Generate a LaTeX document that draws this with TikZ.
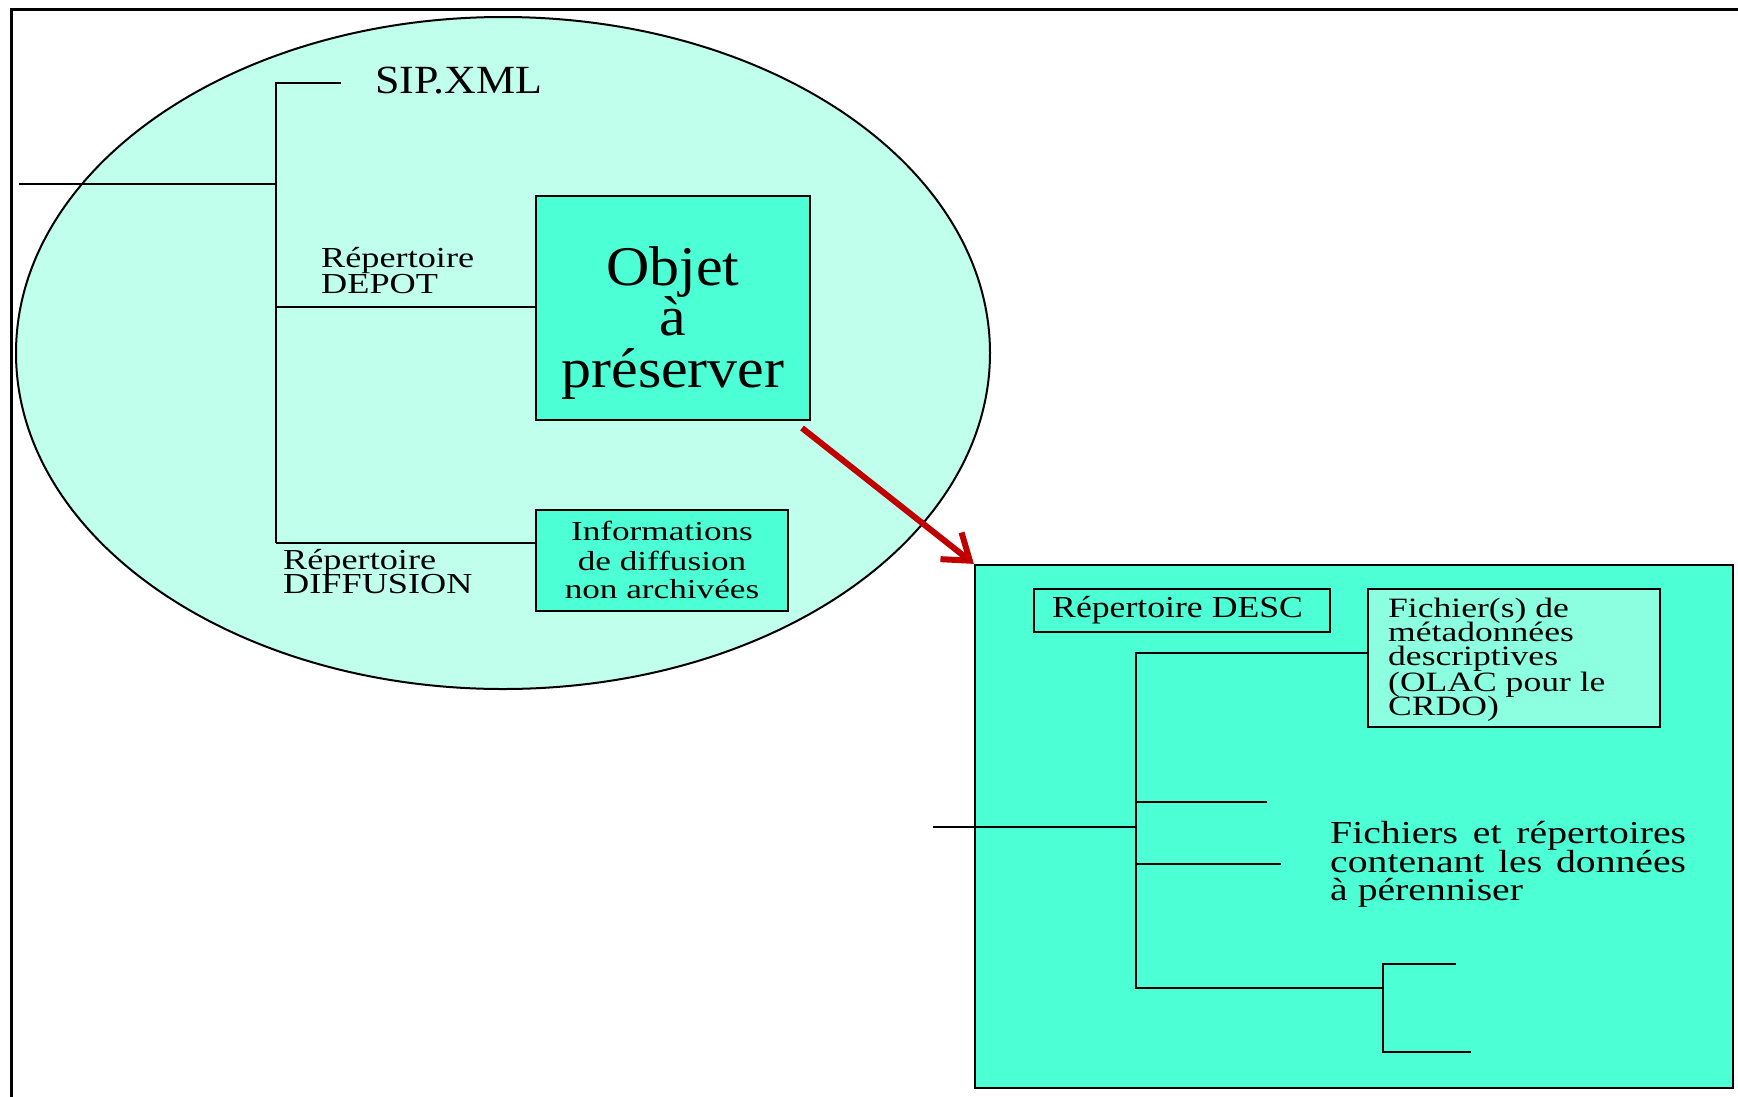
\documentclass[tikz,border=0pt]{standalone}
\usepackage{fontspec}
\setmainfont{Liberation Serif}
\usetikzlibrary{shapes.geometric,arrows.meta}

\definecolor{palemint}{HTML}{C0FFEC}
\definecolor{aqua}{HTML}{4CFFD4}
\definecolor{lightaqua}{HTML}{8CFFE0}
\definecolor{arrowred}{HTML}{C00000}

% horizontally widened text
\newcommand{\wideText}[2]{\scalebox{#1}[1]{#2}}

\begin{document}
\begin{tikzpicture}[x=1pt,y=-1pt,
  treeline/.style={line width=2.2pt},
  boxnode/.style={draw, line width=2.2pt, fill=aqua, rectangle, inner sep=0pt},
  txt/.style={inner sep=0pt, anchor=base west},
  ctxt/.style={inner sep=0pt, anchor=base},
]
\useasboundingbox (0,0) rectangle (1738,1096);

% page frame (right and bottom sides lie outside the page)
\draw[line width=3pt] (1760,9) -- (11,9) -- (11,1120);

% ---------- SIP package ----------
\node (sip) [ellipse, draw, line width=2pt, fill=palemint, inner sep=0pt,
  minimum width=974pt, minimum height=672pt] at (503,353) {};

\node (obj) [boxnode, minimum width=274pt, minimum height=224pt] at (673,308) {};
\node (info) [boxnode, minimum width=252pt, minimum height=101pt] at (662,560.5) {};

\coordinate (sipIn) at (19,184);
\coordinate (trTop) at (276,83);
\coordinate (trMid) at (276,184);
\coordinate (trDepot) at (276,307);
\coordinate (trDiff) at (276,543);
\coordinate (xmlEnd) at (341,83);

\draw[treeline] (sipIn) -- (trMid);
\draw[treeline] (xmlEnd) -- (trTop) -- (trDiff);
\draw[treeline] (trDepot) -- (trDepot -| obj.west);
\draw[treeline] (trDiff) -- (trDiff -| info.west);

\node (xml) [txt, font=\fontsize{40}{40}\selectfont] at (375,93) {\wideText{1.1}{SIP.XML}};

\node (depA) [txt, font=\fontsize{29}{29}\selectfont] at (321,267) {\wideText{1.25}{Répertoire}};
\node (depB) [txt, font=\fontsize{29}{29}\selectfont] at (321,293) {\wideText{1.25}{DEPOT}};

\node (difA) [txt, font=\fontsize{29}{29}\selectfont] at (283,569) {\wideText{1.25}{Répertoire}};
\node (difB) [txt, font=\fontsize{29}{29}\selectfont] at (283,593) {\wideText{1.25}{DIFFUSION}};

\node (objA) [ctxt, font=\fontsize{56}{56}\selectfont] at (673,285) {\wideText{1.07}{Objet}};
\node (objB) [ctxt, font=\fontsize{56}{56}\selectfont] at (673,335) {\wideText{1.07}{à}};
\node (objC) [ctxt, font=\fontsize{56}{56}\selectfont] at (673,387) {\wideText{1.07}{préserver}};

\node (infA) [ctxt, font=\fontsize{27.5}{27.5}\selectfont] at (662,540) {\wideText{1.28}{Informations}};
\node (infB) [ctxt, font=\fontsize{27.5}{27.5}\selectfont] at (662,570) {\wideText{1.28}{de diffusion}};
\node (infC) [ctxt, font=\fontsize{27.5}{27.5}\selectfont] at (662,598) {\wideText{1.28}{non archivées}};

% ---------- content of the DEPOT folder ----------
\node (depot) [boxnode, minimum width=758pt, minimum height=523pt] at (1354,826.5) {};
\node (desc) [boxnode, minimum width=296pt, minimum height=43pt] at (1182,610.5) {};
\node (fich) [boxnode, fill=lightaqua, minimum width=292pt, minimum height=138pt] at (1514,658) {};

\coordinate (depIn) at (933,827);
\coordinate (bTop) at (1136,653);
\coordinate (bIn) at (1136,827);
\coordinate (bOne) at (1136,802);
\coordinate (bTwo) at (1136,864);
\coordinate (bLow) at (1136,988);
\coordinate (oneEnd) at (1267,802);
\coordinate (twoEnd) at (1281,864);
\coordinate (sTop) at (1383,964);
\coordinate (sMid) at (1383,988);
\coordinate (sBot) at (1383,1052);
\coordinate (sTopEnd) at (1456,964);
\coordinate (sBotEnd) at (1471,1052);

\draw[line width=2.8pt] (depIn) -- (bIn);
\draw[treeline] (bTop -| fich.west) -- (bTop) -- (bLow) -- (sMid);
\draw[treeline] (bOne) -- (oneEnd);
\draw[treeline] (bTwo) -- (twoEnd);
\draw[treeline] (sTopEnd) -- (sTop) -- (sBot) -- (sBotEnd);

\node (descT) [txt, font=\fontsize{30.5}{30.5}\selectfont] at (1052,617) {\wideText{1.17}{Répertoire DESC}};

\node (fA) [txt, font=\fontsize{28}{28}\selectfont] at (1388,617) {\wideText{1.27}{Fichier(s) de}};
\node (fB) [txt, font=\fontsize{28}{28}\selectfont] at (1388,641) {\wideText{1.27}{métadonnées}};
\node (fC) [txt, font=\fontsize{28}{28}\selectfont] at (1388,665) {\wideText{1.27}{descriptives}};
\node (fD) [txt, font=\fontsize{28}{28}\selectfont] at (1388,691) {\wideText{1.27}{(OLAC pour le}};
\node (fE) [txt, font=\fontsize{28}{28}\selectfont] at (1388,715) {\wideText{1.27}{CRDO)}};

\node (dA) [txt, font=\fontsize{32}{32}\selectfont] at (1330,843) {\wideText{1.24}{\makebox[287pt][s]{Fichiers et répertoires}}};
\node (dB) [txt, font=\fontsize{32}{32}\selectfont] at (1330,872) {\wideText{1.24}{\makebox[287pt][s]{contenant les données}}};
\node (dC) [txt, font=\fontsize{32}{32}\selectfont] at (1330,900) {\wideText{1.24}{à pérenniser}};

% ---------- zoom arrow ----------
\coordinate (arrStart) at (802,428);
\draw[arrowred, line width=6pt, -{Straight Barb[length=24pt,width=34pt]}]
  (arrStart) -- (depot.north west);
\end{tikzpicture}
\end{document}
